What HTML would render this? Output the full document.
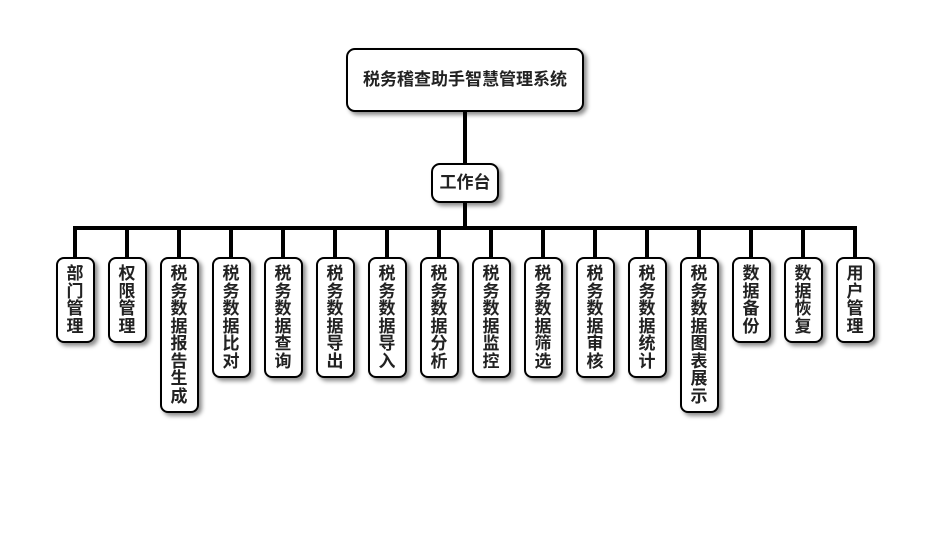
<!DOCTYPE html>
<html><head><meta charset="utf-8"><style>
body{margin:0;width:930px;height:560px;background:#fff;position:relative;overflow:hidden;font-family:"Liberation Sans","Noto Sans CJK SC",sans-serif;font-weight:bold;color:#222}
.b{position:absolute;background:#fff;border:2px solid #000;box-sizing:border-box;border-radius:9px;box-shadow:3px 3px 4px rgba(0,0,0,.45);text-align:center}
.l{position:absolute;background:#000}
.leaf{width:39px;top:257px;font-size:17px;line-height:17.5px;padding-top:6px;border-radius:8px}
</style></head><body>
<div class="l" style="left:463px;top:112px;width:4px;height:52px"></div>
<div class="l" style="left:463px;top:202px;width:4px;height:26px"></div>
<div class="l" style="left:73px;top:226px;width:784px;height:4px"></div>
<div class="b" style="left:346px;top:48px;width:238px;height:64px;line-height:60px;font-size:17px">税务稽查助手智慧管理系统</div>
<div class="b" style="left:431px;top:163px;width:68px;height:40px;line-height:36px;font-size:17px">工作台</div>
<div id="leaves"></div>
<script>
var t=["部门管理","权限管理","税务数据报告生成","税务数据比对","税务数据查询","税务数据导出","税务数据导入","税务数据分析","税务数据监控","税务数据筛选","税务数据审核","税务数据统计","税务数据图表展示","数据备份","数据恢复","用户管理"];
var h="";
for(var i=0;i<t.length;i++){var cx=75+52*i;var n=t[i].length;
h+='<div class="l" style="left:'+(cx-2)+'px;top:226px;width:4px;height:32px"></div>';
h+='<div class="b leaf" style="left:'+(cx-19.5)+'px;height:'+(16+n*17.5)+'px">'+t[i].split("").join("<br>")+'</div>';}
document.getElementById("leaves").innerHTML=h;
</script>
</body></html>
